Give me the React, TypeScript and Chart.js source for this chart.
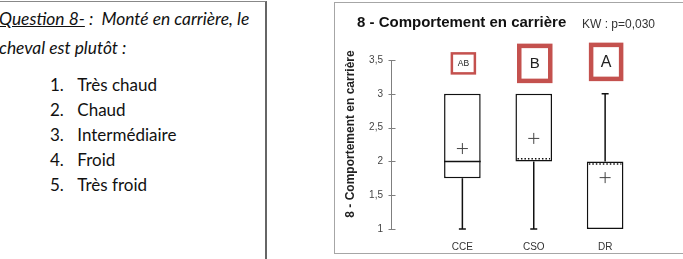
import React, { useEffect, useRef } from 'react';
import { Chart, registerables } from 'chart.js';

Chart.register(...registerables);

// ---- Data ----
const categories = ['CCE', 'CSO', 'DR'];
const minValues = [1, 1, 1];
const q1Values = [1.75, 2, 1];
const medianValues = [2, 2, 2];
const q3Values = [3, 3, 2];
const maxValues = [3, 3, 3];
const meanValues = [2.19, 2.34, 1.76];
const groupLetters = ['AB', 'B', 'A'];
const yTicks = [1, 1.5, 2, 2.5, 3, 3.5];
const questionItems = ['Très chaud', 'Chaud', 'Intermédiaire', 'Froid', 'Très froid'];

const chartTitle = '8 - Comportement en carrière';
const yAxisTitle = '8 - Comportement en carrière';
const testLabel = 'KW : p=0,030';

// ---- Styles ----
const letterLevel = 3.45;
const letterBoxStyles = [
  { w: 23, h: 20, lw: 2.5, font: 8.5 },
  { w: 31, h: 35, lw: 4.5, font: 15 },
  { w: 30, h: 34, lw: 4.5, font: 16 },
];
const RED = '#c4514e';
const SANS = '"Liberation Sans", Arial, sans-serif';

const extrasPlugin = {
  id: 'boxExtras',
  beforeDatasetsDraw(chart: any) {
    const { ctx, scales, chartArea } = chart;
    const x = scales.x;
    const y = scales.y;
    ctx.save();
    // y axis line and crossing ticks
    ctx.strokeStyle = '#7f7f7f';
    ctx.lineWidth = 1;
    const ax = Math.round(chartArea.left) + 0.5;
    ctx.beginPath();
    ctx.moveTo(ax, y.getPixelForValue(y.max));
    ctx.lineTo(ax, y.getPixelForValue(y.min));
    y.ticks.forEach((t: any) => {
      const py = Math.round(y.getPixelForValue(t.value)) + 0.5;
      ctx.moveTo(ax - 3, py);
      ctx.lineTo(ax + 4, py);
    });
    ctx.stroke();
    // whiskers (caps only where the whisker extends beyond the box)
    ctx.strokeStyle = '#111';
    ctx.lineWidth = 1.5;
    categories.forEach((_, i) => {
      const cx = x.getPixelForValue(i);
      const pMin = y.getPixelForValue(minValues[i]);
      const pMax = y.getPixelForValue(maxValues[i]);
      ctx.beginPath();
      if (minValues[i] < q1Values[i]) {
        ctx.moveTo(cx, pMin);
        ctx.lineTo(cx, y.getPixelForValue(q1Values[i]));
        ctx.moveTo(cx - 3.5, pMin);
        ctx.lineTo(cx + 3.5, pMin);
      }
      if (maxValues[i] > q3Values[i]) {
        ctx.moveTo(cx, pMax);
        ctx.lineTo(cx, y.getPixelForValue(q3Values[i]));
        ctx.moveTo(cx - 3.5, pMax);
        ctx.lineTo(cx + 3.5, pMax);
      }
      ctx.stroke();
    });
    ctx.restore();
  },
  afterDatasetsDraw(chart: any) {
    const { ctx, scales } = chart;
    const y = scales.y;
    const meta = chart.getDatasetMeta(1);
    ctx.save();
    ctx.strokeStyle = '#111';
    categories.forEach((_, i) => {
      const bar = meta.data[i];
      if (!bar) return;
      const left = bar.x - bar.width / 2;
      const right = bar.x + bar.width / 2;
      const m = medianValues[i];
      if (m > q1Values[i] && m < q3Values[i]) {
        const py = y.getPixelForValue(m);
        ctx.setLineDash([]);
        ctx.lineWidth = 1.5;
        ctx.beginPath();
        ctx.moveTo(left, py);
        ctx.lineTo(right, py);
        ctx.stroke();
      } else {
        let py = y.getPixelForValue(m);
        py += m === q1Values[i] ? -2.7 : 2.7;
        ctx.setLineDash([1.5, 2]);
        ctx.lineWidth = 1.5;
        ctx.beginPath();
        ctx.moveTo(left + 2, py);
        ctx.lineTo(right - 2, py);
        ctx.stroke();
      }
    });
    ctx.restore();
  },
  afterDraw(chart: any) {
    const { ctx, scales } = chart;
    const x = scales.x;
    const y = scales.y;
    ctx.save();
    // title
    ctx.fillStyle = '#111';
    ctx.font = `bold 15px ${SANS}`;
    ctx.textAlign = 'left';
    ctx.textBaseline = 'alphabetic';
    ctx.fillText(chartTitle, 23, 24.7);
    // test label
    ctx.fillStyle = '#333';
    ctx.font = `12px ${SANS}`;
    ctx.fillText(testLabel, 248, 26.3);
    // y title
    ctx.save();
    ctx.translate(16.7, 132);
    ctx.rotate(-Math.PI / 2);
    ctx.fillStyle = '#222';
    ctx.font = `bold 12px ${SANS}`;
    ctx.textAlign = 'center';
    ctx.textBaseline = 'middle';
    ctx.fillText(yAxisTitle, 0, 0);
    ctx.restore();
    // letter boxes
    groupLetters.forEach((letter, i) => {
      const st = letterBoxStyles[i];
      const cx = x.getPixelForValue(i) + 1;
      const cy = y.getPixelForValue(letterLevel) - (i === 2 ? 1.5 : 0);
      ctx.strokeStyle = RED;
      ctx.lineWidth = st.lw;
      ctx.strokeRect(cx - st.w / 2, cy - st.h / 2, st.w, st.h);
      ctx.fillStyle = '#222';
      ctx.font = `${st.font}px ${SANS}`;
      ctx.textAlign = 'center';
      ctx.textBaseline = 'middle';
      ctx.fillText(letter, cx, cy + 0.5);
    });
    ctx.restore();
  },
};

function BoxChart() {
  const ref = useRef<HTMLCanvasElement | null>(null);
  useEffect(() => {
    if (!ref.current) return;
    const chart = new Chart(ref.current, {
      type: 'bar',
      data: {
        datasets: [
          {
            type: 'scatter',
            data: meanValues.map((m, i) => ({ x: i, y: m })),
            pointStyle: 'cross',
            pointRadius: 5.5,
            borderColor: '#444',
            borderWidth: 1,
            order: 0,
          } as any,
          {
            type: 'bar',
            data: q1Values.map((q, i) => ({ x: i, y: [q, q3Values[i]] })),
            backgroundColor: '#fff',
            borderColor: '#111',
            borderWidth: 1.5,
            borderSkipped: false,
            barPercentage: 0.513,
            categoryPercentage: 1,
            order: 1,
          } as any,
        ],
      },
      options: {
        responsive: false,
        animation: false,
        layout: { padding: { left: 0, right: 6, top: 58, bottom: 0 } },
        plugins: { legend: { display: false }, tooltip: { enabled: false }, title: { display: false } },
        scales: {
          x: {
            type: 'linear',
            min: -1,
            max: 3,
            offset: false,
            grid: { display: false, drawTicks: false, offset: false },
            border: { display: false },
            afterBuildTicks: (s: any) => {
              s.ticks = categories.map((_, i) => ({ value: i }));
            },
            afterFit: (s: any) => {
              s.height = 25;
            },
            ticks: {
              padding: 12,
              color: '#333',
              font: { size: 10, family: SANS },
              callback: (v: any) => categories[v] ?? '',
            },
          },
          y: {
            type: 'linear',
            min: 1,
            max: 3.5,
            grid: { display: false, drawTicks: false },
            border: { display: false },
            afterBuildTicks: (s: any) => {
              s.ticks = yTicks.map((v) => ({ value: v }));
            },
            afterFit: (s: any) => {
              s.width = 57;
            },
            ticks: {
              padding: 8,
              color: '#444',
              font: { size: 10, family: SANS },
              callback: (v: any) => String(v).replace('.', ','),
            },
          },
        },
      } as any,
      plugins: [extrasPlugin],
    });
    return () => chart.destroy();
  }, []);
  return (
    <canvas
      ref={ref}
      width={349}
      height={252}
      style={{ position: 'absolute', left: 334, top: 2, width: 349, height: 252 }}
    />
  );
}

const textStyle = (baseline: number, left: number, fs = 17): React.CSSProperties => ({
  position: 'absolute',
  left,
  top: baseline - 0.987 * fs,
  fontSize: fs,
  lineHeight: `${1.2 * fs}px`,
  whiteSpace: 'pre',
  fontFamily: 'Lato, sans-serif',
  color: '#111',
});

const listBaselines = [91.5, 116.6, 141.7, 166.8, 191.9];

export default function App() {
  return (
    <div
      style={{
        position: 'fixed',
        left: 0,
        top: 0,
        width: 683,
        height: 259,
        background: '#fff',
        overflow: 'hidden',
      }}
    >
      <div
        style={{
          position: 'absolute',
          left: -3,
          top: 1,
          width: 270,
          height: 300,
          borderTop: '1px solid #888',
          borderRight: '2px solid #666',
          boxSizing: 'border-box',
        }}
      />
      <div style={{ ...textStyle(26, -1, 17.4), fontStyle: 'italic' }}>
        <span style={{ textDecoration: 'underline' }}>Question 8-</span>
        {' :  Monté en carrière, le'}
      </div>
      <div style={{ ...textStyle(55, -1, 17.4), fontStyle: 'italic' }}>cheval est plutôt :</div>
      {questionItems.map((item, i) => (
        <React.Fragment key={item}>
          <div style={textStyle(listBaselines[i], 50)}>{`${i + 1}.`}</div>
          <div style={textStyle(listBaselines[i], 77.3)}>{item}</div>
        </React.Fragment>
      ))}
      <div
        style={{
          position: 'absolute',
          left: 334,
          top: 2,
          width: 360,
          height: 252,
          border: '1px solid #a6a6a6',
          boxSizing: 'border-box',
        }}
      />
      <BoxChart />
    </div>
  );
}
